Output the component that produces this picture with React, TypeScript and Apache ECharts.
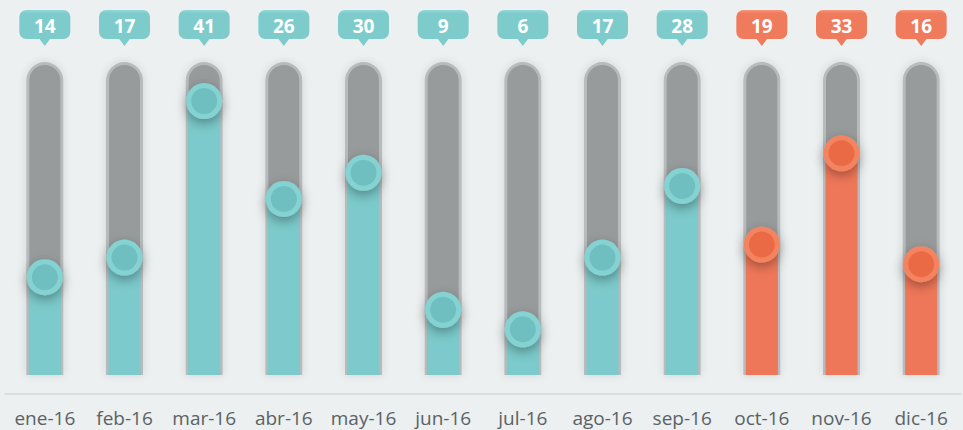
import React, { useEffect, useRef } from "react";
import * as echarts from "echarts";

const categories = ["ene-16", "feb-16", "mar-16", "abr-16", "may-16", "jun-16", "jul-16", "ago-16", "sep-16", "oct-16", "nov-16", "dic-16"];
const values = [14, 17, 41, 26, 30, 9, 6, 17, 28, 19, 33, 16];
const highlighted = [false, false, false, false, false, false, false, false, false, true, true, true];

const Y_MIN = -1;
const Y_MAX = 47;

const TEAL = { bar: "#7ccacb", bubble: "#7ecbcc", bubbleTop: "#93d7d8", ring: "#85d2d3", core: "#6fbfc0" };
const ORANGE = { bar: "#ef7759", bubble: "#ef7a5c", bubbleTop: "#f5957b", ring: "#f4845f", core: "#e96a44" };

export default function App() {
  const ref = useRef<HTMLDivElement>(null);
  useEffect(() => {
    if (!ref.current) return;
    const chart = echarts.init(ref.current, undefined, { renderer: "svg" });
    const option: any = {
      animation: false,
      backgroundColor: "#ecf0f1",
      grid: { left: 5, right: 2, top: 62, bottom: 55 },
      xAxis: {
        type: "category",
        data: categories,
        offset: 19,
        axisLine: { show: true, onZero: false, lineStyle: { color: "#d3d8d9", width: 1.5 } },
        axisTick: { show: false },
        axisLabel: { interval: 0, color: "#5b6264", fontSize: 19, margin: 14, fontFamily: "Open Sans" },
      },
      yAxis: { type: "value", min: Y_MIN, max: Y_MAX, show: false, splitLine: { show: false } },
      series: [
        {
          type: "custom",
          clip: false,
          data: values.map((v, i) => [i, v]),
          encode: { x: 0, y: 1 },
          renderItem: (params: any, api: any) => {
            const i = api.value(0);
            const v = api.value(1);
            const pal = highlighted[i] ? ORANGE : TEAL;
            const x = api.coord([i, 0])[0];
            const yv = api.coord([i, v])[1];
            const yTop = api.coord([i, Y_MAX])[1];
            const yBot = api.coord([i, Y_MIN])[1];
            const outerW = 37;
            const innerW = 31;
            const barW = 32;
            const bubbleW = 51;
            const bubbleH = 29;
            const bubbleY = 10;
            return {
              type: "group",
              children: [
                {
                  type: "rect",
                  shape: { x: x - outerW / 2, y: yTop, width: outerW, height: yBot - yTop, r: [outerW / 2, outerW / 2, 0, 0] },
                  style: { fill: "#b7bbbc", shadowBlur: 8, shadowColor: "rgba(0,0,0,0.12)" },
                },
                {
                  type: "rect",
                  shape: { x: x - innerW / 2, y: yTop + 3, width: innerW, height: yBot - yTop - 3, r: [innerW / 2, innerW / 2, 0, 0] },
                  style: { fill: "#979b9c" },
                },
                {
                  type: "rect",
                  shape: { x: x - barW / 2, y: yv, width: barW, height: yBot - yv },
                  style: { fill: pal.bar },
                },
                {
                  type: "circle",
                  shape: { cx: x, cy: yv, r: 18 },
                  style: { fill: pal.ring, shadowBlur: 12, shadowColor: "rgba(0,0,0,0.35)", shadowOffsetY: 4 },
                },
                {
                  type: "circle",
                  shape: { cx: x, cy: yv, r: 13 },
                  style: { fill: pal.core },
                },
                {
                  type: "polygon",
                  shape: { points: [[x - 6, bubbleY + bubbleH - 1], [x + 6, bubbleY + bubbleH - 1], [x, bubbleY + bubbleH + 7]] },
                  style: { fill: pal.bubble },
                },
                {
                  type: "rect",
                  shape: { x: x - bubbleW / 2, y: bubbleY, width: bubbleW, height: bubbleH, r: 7 },
                  style: {
                    fill: new echarts.graphic.LinearGradient(0, 0, 0, 1, [
                      { offset: 0, color: pal.bubbleTop },
                      { offset: 0.12, color: pal.bubble },
                      { offset: 1, color: pal.bubble },
                    ]),
                  },
                },
                {
                  type: "text",
                  x: x,
                  y: bubbleY + bubbleH / 2 + 1,
                  style: {
                    text: String(v),
                    fill: "#ffffff",
                    fontSize: 19,
                    fontWeight: "bold",
                    fontFamily: "Open Sans",
                    align: "center",
                    verticalAlign: "middle",
                  },
                },
              ],
            };
          },
        },
      ],
    };
    chart.setOption(option);
    return () => chart.dispose();
  }, []);
  return (
    <div style={{ position: "fixed", left: 0, top: 0, width: 963, height: 430, background: "#ecf0f1" }}>
      <div ref={ref} style={{ width: 963, height: 430 }} />
    </div>
  );
}
